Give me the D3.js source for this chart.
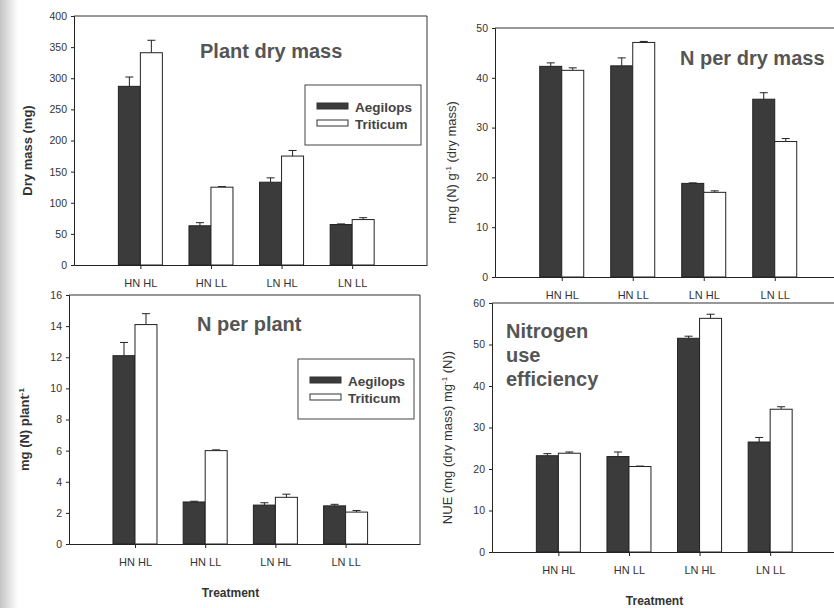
<!DOCTYPE html>
<html>
<head>
<meta charset="utf-8">
<script src="https://cdn.jsdelivr.net/npm/d3@7"></script>
<style>
	body { margin: 0; background: #fff; }
	svg { display: block; font-family: "Liberation Sans", Arial, sans-serif; }
	.tick-label { font-size: 10.5px; fill: #333; }
	.cat-label { font-size: 11px; fill: #333; }
	.panel-title { font-size: 20px; font-weight: bold; fill: #555; }
	.legend-text { font-size: 13.5px; font-weight: bold; fill: #444; }
</style>
</head>
<body>
<svg id="chart" width="834" height="608"></svg>
<script>
const treatments = ["HN HL", "HN LL", "LN HL", "LN LL"];
const species = ["Aegilops", "Triticum"];

// plant dry mass (mg)
const dryMassAegilops = [287, 63, 133, 65];
const dryMassAegilopsErr = [15, 5, 7, 1];
const dryMassTriticum = [341, 125, 175, 73];
const dryMassTriticumErr = [20, 1, 9, 3];
const dryMassTicks = [0, 50, 100, 150, 200, 250, 300, 350, 400];

// N per dry mass, mg (N) g-1
const nDryAegilops = [42.3, 42.4, 18.8, 35.7];
const nDryAegilopsErr = [0.7, 1.6, 0.1, 1.3];
const nDryTriticum = [41.5, 47.1, 17.0, 27.2];
const nDryTriticumErr = [0.5, 0.2, 0.3, 0.6];
const nDryTicks = [0, 10, 20, 30, 40, 50];

// N per plant, mg (N) plant-1
const nPlantAegilops = [12.1, 2.7, 2.5, 2.45];
const nPlantAegilopsErr = [0.85, 0.05, 0.15, 0.1];
const nPlantTriticum = [14.1, 6.0, 3.0, 2.05];
const nPlantTriticumErr = [0.7, 0.05, 0.2, 0.1];
const nPlantTicks = [0, 2, 4, 6, 8, 10, 12, 14, 16];

// nitrogen use efficiency
const nueAegilops = [23.2, 23.0, 51.5, 26.5];
const nueAegilopsErr = [0.5, 1.1, 0.5, 1.1];
const nueTriticum = [23.8, 20.6, 56.3, 34.4];
const nueTriticumErr = [0.3, 0.1, 1.0, 0.6];
const nueTicks = [0, 10, 20, 30, 40, 50, 60];

const barColor = "#3b3b3b";
const barWidth = 22;

const svg = d3.select("#chart");

// scanned page shading on the left edge
const defs = svg.append("defs");
const grad = defs.append("linearGradient").attr("id", "edge");
grad.append("stop").attr("offset", "0%").attr("stop-color", "#c4c4c4");
grad.append("stop").attr("offset", "100%").attr("stop-color", "#ffffff");
svg.append("rect")
	.attr("x", 0).attr("y", 0)
	.attr("width", 18).attr("height", 608)
	.attr("fill", "url(#edge)");

function drawPanel(opts) {
	const { box, ticks, aeg, aegErr, tri, triErr, yLabel, yLabelX, yLabelBold, title, titleX, titleY, legend, xTitle } = opts;
	const g = svg.append("g");

	const x = d3.scalePoint()
		.domain(treatments)
		.range([box.left, box.right])
		.padding(1)
		.align(0.47);

	const xs = d3.scaleBand()
		.domain(species)
		.range([-barWidth, barWidth]);

	const y = d3.scaleLinear()
		.domain([0, d3.max(ticks)])
		.range([box.bottom, box.top]);

	const rows = treatments.map((t, i) => [
		{ t, s: species[0], v: aeg[i], e: aegErr[i] },
		{ t, s: species[1], v: tri[i], e: triErr[i] }
	]).flat();

	// error bars (upper only)
	const err = g.append("g").attr("stroke", "#222").attr("stroke-width", 1);
	err.selectAll("line.stem")
		.data(rows)
		.join("line")
		.attr("class", "stem")
		.attr("x1", (d) => x(d.t) + xs(d.s) + barWidth / 2)
		.attr("x2", (d) => x(d.t) + xs(d.s) + barWidth / 2)
		.attr("y1", (d) => y(d.v))
		.attr("y2", (d) => y(d.v + d.e));
	err.selectAll("line.cap")
		.data(rows)
		.join("line")
		.attr("class", "cap")
		.attr("x1", (d) => x(d.t) + xs(d.s) + barWidth / 2 - 4)
		.attr("x2", (d) => x(d.t) + xs(d.s) + barWidth / 2 + 4)
		.attr("y1", (d) => y(d.v + d.e))
		.attr("y2", (d) => y(d.v + d.e));

	g.selectAll("rect.bar")
		.data(rows)
		.join("rect")
		.attr("class", "bar")
		.attr("x", (d) => x(d.t) + xs(d.s))
		.attr("y", (d) => y(d.v))
		.attr("width", barWidth)
		.attr("height", (d) => y(0) - y(d.v))
		.attr("fill", (d) => d.s === "Aegilops" ? barColor : "#fff")
		.attr("stroke", "#222")
		.attr("stroke-width", 1);

	// frame lines: top + right, axes left + bottom
	g.append("line")
		.attr("x1", box.left).attr("x2", box.right)
		.attr("y1", box.top).attr("y2", box.top)
		.attr("stroke", "#333");
	g.append("line")
		.attr("x1", box.right).attr("x2", box.right)
		.attr("y1", box.top).attr("y2", box.bottom)
		.attr("stroke", "#333");

	const yAxis = g.append("g")
		.attr("transform", `translate(${box.left},0)`)
		.call(d3.axisLeft(y).tickValues(ticks).tickSize(3).tickPadding(4));
	yAxis.select(".domain").attr("stroke", "#222");
	yAxis.selectAll(".tick line").attr("stroke", "#222");
	yAxis.selectAll(".tick text").attr("class", "tick-label").attr("font-family", null).attr("font-size", null);

	const xAxis = g.append("g")
		.attr("transform", `translate(0,${box.bottom})`)
		.call(d3.axisBottom(x).tickSize(4).tickPadding(10).tickSizeOuter(0));
	xAxis.select(".domain").attr("stroke", "#222");
	xAxis.selectAll(".tick line").attr("stroke", "#222");
	xAxis.selectAll(".tick text").attr("class", "cat-label").attr("font-family", null).attr("font-size", null);

	// y title
	const yMid = (box.top + box.bottom) / 2 + 10;
	const yt = g.append("text")
		.attr("transform", `translate(${yLabelX},${yMid}) rotate(-90)`)
		.attr("text-anchor", "middle")
		.attr("fill", "#333")
		.style("font-size", "13px")
		.style("font-weight", yLabelBold ? "bold" : "normal");
	yLabel.forEach((part) => {
		const ts = yt.append("tspan").text(part.t);
		if (part.sup) ts.attr("dy", -5).style("font-size", "8px");
		else if (part.after) ts.attr("dy", 5);
	});

	// panel title
	const tt = g.append("text")
		.attr("class", "panel-title")
		.attr("x", titleX)
		.attr("y", titleY);
	title.forEach((line, i) => {
		tt.append("tspan").attr("x", titleX).attr("dy", i === 0 ? 0 : 24).text(line);
	});

	if (legend) {
		const lg = g.append("g").attr("transform", `translate(${box.right - 122},${box.top + legend})`);
		lg.append("rect")
			.attr("width", 116).attr("height", 60)
			.attr("fill", "#fff").attr("stroke", "#444");
		species.forEach((s, i) => {
			lg.append("rect")
				.attr("x", 12).attr("y", 18 + i * 17)
				.attr("width", 31).attr("height", 6)
				.attr("fill", i === 0 ? barColor : "#fff")
				.attr("stroke", "#333");
			lg.append("text")
				.attr("class", "legend-text")
				.attr("x", 50).attr("y", 27 + i * 17)
				.text(s);
		});
	}

	if (xTitle) {
		g.append("text")
			.attr("x", (box.left + box.right) / 2 - 16 + xTitle)
			.attr("y", box.bottom + 53)
			.attr("text-anchor", "middle")
			.attr("fill", "#333")
			.style("font-size", "12px")
			.style("font-weight", "bold")
			.text("Treatment");
	}
}

drawPanel({
	box: { left: 74, right: 427, top: 16, bottom: 265 },
	ticks: dryMassTicks,
	aeg: dryMassAegilops, aegErr: dryMassAegilopsErr,
	tri: dryMassTriticum, triErr: dryMassTriticumErr,
	yLabel: [{ t: "Dry mass (mg)" }], yLabelX: 32, yLabelBold: true,
	title: ["Plant dry mass"], titleX: 200, titleY: 58,
	legend: 69
});

drawPanel({
	box: { left: 495, right: 850, top: 28, bottom: 277 },
	ticks: nDryTicks,
	aeg: nDryAegilops, aegErr: nDryAegilopsErr,
	tri: nDryTriticum, triErr: nDryTriticumErr,
	yLabel: [{ t: "mg (N) g" }, { t: "-1", sup: true }, { t: " (dry mass)", after: true }], yLabelX: 456, yLabelBold: false,
	title: ["N per dry mass"], titleX: 680, titleY: 65
});

drawPanel({
	box: { left: 69, right: 420, top: 295, bottom: 544 },
	ticks: nPlantTicks,
	aeg: nPlantAegilops, aegErr: nPlantAegilopsErr,
	tri: nPlantTriticum, triErr: nPlantTriticumErr,
	yLabel: [{ t: "mg (N) plant" }, { t: "-1", sup: true }], yLabelX: 29, yLabelBold: true,
	title: ["N per plant"], titleX: 197, titleY: 331,
	legend: 64,
	xTitle: 2
});

drawPanel({
	box: { left: 492, right: 845, top: 303, bottom: 552 },
	ticks: nueTicks,
	aeg: nueAegilops, aegErr: nueAegilopsErr,
	tri: nueTriticum, triErr: nueTriticumErr,
	yLabel: [{ t: "NUE (mg (dry mass) mg" }, { t: "-1", sup: true }, { t: " (N))", after: true }], yLabelX: 452, yLabelBold: false,
	title: ["Nitrogen", "use", "efficiency"], titleX: 506, titleY: 338,
	xTitle: 2
});
</script>
</body>
</html>
